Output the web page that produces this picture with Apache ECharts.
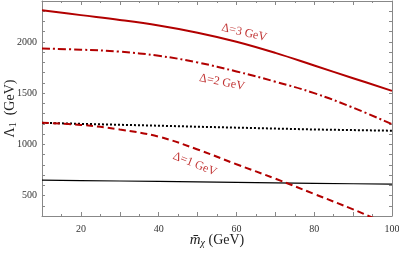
<!DOCTYPE html>
<html><head><meta charset="utf-8">
<script src="https://cdn.jsdelivr.net/npm/echarts@6/dist/echarts.min.js"></script>
<style>html,body{margin:0;padding:0;background:#fff}#c{width:399px;height:253px}</style>
</head><body><div id="c"></div>
<script>
const mChi = [10, 20, 30, 40, 50, 60, 70, 80, 90, 100];
const delta3 = [2310, 2262, 2215, 2160, 2090, 2002, 1893, 1770, 1646, 1522];
const delta2 = [1935, 1925, 1905, 1865, 1800, 1712, 1612, 1500, 1358, 1197];
const delta1x = [10, 20, 30, 40, 50, 60, 70, 80, 90, 94, 97];
const delta1 = [1210, 1190, 1145, 1075, 950, 805, 665, 515, 365, 300, 255];
const dotted = [1210, 1200, 1191, 1182, 1172, 1163, 1154, 1145, 1139, 1133];
const solidBlack = [650, 646, 642, 638, 634, 629, 624, 619, 615, 611];
const labelTexts = ['Δ=3 GeV', 'Δ=2 GeV', 'Δ=1 GeV'];
const labelPos = [[62.0, 2090], [56.3, 1606], [49.3, 807]];
const labelRot = [-13, -11, -22];
const xTicks = [20, 40, 60, 80, 100];
const yTicks = [500, 1000, 1500, 2000];

const red = '#b20000';
const serif = '"Liberation Serif","DejaVu Serif",serif';
const pair = (xs, ys) => xs.map((x, i) => [x, ys[i]]);
const axisLine = {lineStyle: {color: '#888', width: 1}};

const chart = echarts.init(document.getElementById('c'), null, {renderer: 'canvas'});
chart.setOption({
  animation: false,
  backgroundColor: '#fff',
  grid: {left: 42, right: 7, top: 1, bottom: 37, containLabel: false, outerBoundsMode: 'none'},
  xAxis: [
    {type: 'value', min: 10, max: 100, interval: 10, position: 'bottom',
      axisLine: axisLine, splitLine: {show: false},
      axisTick: {inside: true, length: 4, lineStyle: {color: '#888'}},
      minorTick: {show: true, splitNumber: 2, length: 2, lineStyle: {color: '#888'}},
      axisLabel: {color: '#333', fontFamily: serif, fontSize: 10, margin: 8,
        formatter: v => xTicks.includes(v) ? String(v) : ''},
      name: '{m|m\u0304}{s|χ} (GeV)', nameLocation: 'middle', nameGap: 16, nameMoveOverlap: false,
      nameTextStyle: {fontFamily: serif, fontSize: 14, color: '#222', verticalAlign: 'top',
        rich: {m: {fontFamily: serif, fontStyle: 'italic', fontSize: 15, color: '#222'},
               s: {fontFamily: serif, fontStyle: 'italic', fontSize: 10, verticalAlign: 'bottom', padding: [6,0,0,0], color: '#222'}}}
    },
    {type: 'value', min: 10, max: 100, interval: 10, position: 'top',
      axisLine: axisLine, splitLine: {show: false},
      axisTick: {inside: true, length: 4, lineStyle: {color: '#888'}},
      minorTick: {show: true, splitNumber: 2, length: 2, lineStyle: {color: '#888'}},
      axisLabel: {show: false}}
  ],
  yAxis: [
    {type: 'value', min: 300, max: 2400, interval: 100, position: 'left',
      axisLine: axisLine, splitLine: {show: false},
      axisTick: {inside: true, length: 3, lineStyle: {color: '#888'}},
      axisLabel: {color: '#333', fontFamily: serif, fontSize: 10, margin: 5,
        formatter: v => yTicks.includes(v) ? String(v) : ''},
      name: 'Λ{s|1}  (GeV)', nameLocation: 'middle', nameGap: 24, nameRotate: 90, nameMoveOverlap: false,
      nameTextStyle: {fontFamily: serif, fontSize: 14, color: '#222',
        rich: {s: {fontFamily: serif, fontSize: 10, verticalAlign: 'bottom', padding: [6,0,0,0], color: '#222'}}}
    },
    {type: 'value', min: 300, max: 2400, interval: 100, position: 'right',
      axisLine: axisLine, splitLine: {show: false},
      axisTick: {inside: true, length: 3, lineStyle: {color: '#888'}},
      axisLabel: {show: false}}
  ],
  series: [
    {type: 'line', data: pair(mChi, solidBlack), symbol: 'none', lineStyle: {color: '#000', width: 1.2}},
    {type: 'line', data: pair(mChi, dotted), symbol: 'none', lineStyle: {color: '#000', width: 2, type: [2, 2]}},
    {type: 'line', data: pair(delta1x, delta1), symbol: 'none', smooth: 0.4, lineStyle: {color: red, width: 2, type: [7, 4]}},
    {type: 'line', data: pair(mChi, delta2), symbol: 'none', smooth: 0.4, lineStyle: {color: red, width: 2, type: [8, 3, 2, 3]}},
    {type: 'line', data: pair(mChi, delta3), symbol: 'none', smooth: 0.4, lineStyle: {color: red, width: 2}},
    {type: 'scatter', symbolSize: 0, silent: true,
      data: labelPos.map((p, i) => ({value: p, label: {show: true, formatter: labelTexts[i], rotate: labelRot[i],
        position: 'inside', color: red, fontFamily: serif, fontSize: 12}}))}
  ]
});
</script></body></html>
